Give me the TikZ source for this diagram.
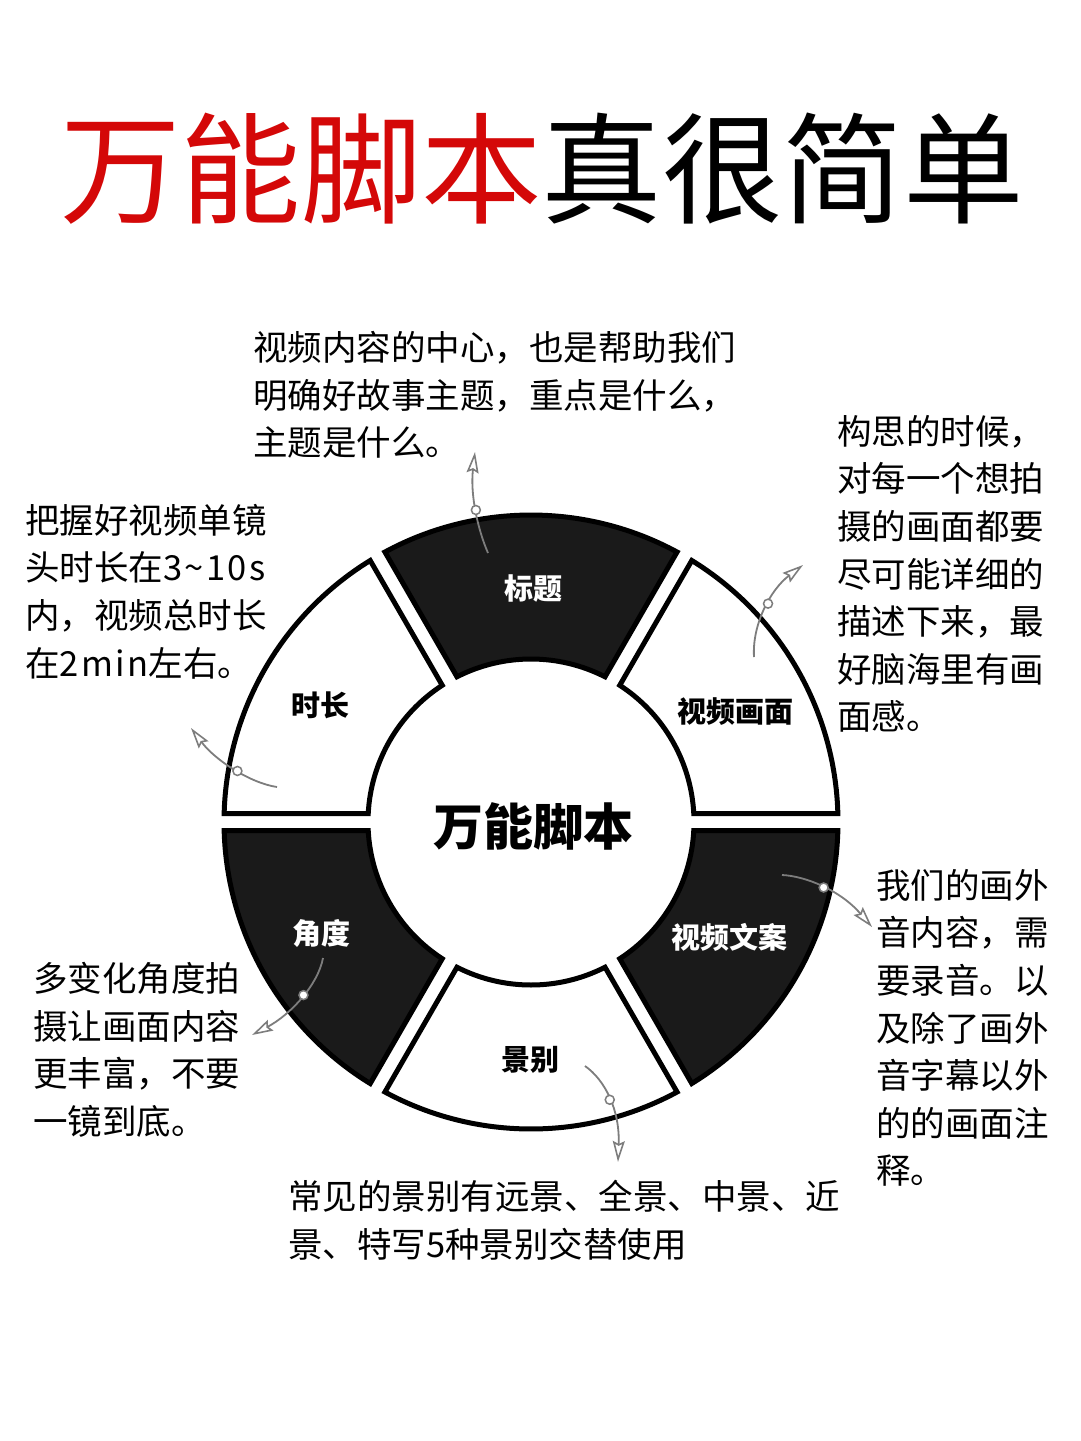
\documentclass[tikz,border=0pt]{standalone}
\usepackage{fontspec}
\newfontfamily\cjk{Noto Sans CJK SC}
\usetikzlibrary{arrows.meta}
\definecolor{titlered}{RGB}{212,8,8}
\definecolor{segblack}{RGB}{26,26,26}
\definecolor{arrowgray}{RGB}{125,125,125}
\newcommand\widelat[1]{{\addfontfeature{LetterSpace=7}#1}}
\tikzset{
  darkseg/.style={draw=black, fill=segblack, line width=5pt, line join=miter},
  lightseg/.style={draw=black, fill=white, line width=5pt, line join=miter},
  seglabel/.style={font=\cjk\bfseries\fontsize{29}{32}\selectfont, inner sep=0pt},
  desc/.style={anchor=north west, inner sep=0pt, align=left, font=\cjk\fontsize{34.5}{47.6}\selectfont},
  pointer/.style={draw=arrowgray, line width=1.8pt, -{Stealth[open, length=21pt, width=12pt, inset=3pt, line width=1.6pt]}},
  ringmark/.style={circle, draw=arrowgray, fill=white, line width=1.5pt, minimum size=9pt, inner sep=0pt}
}
\begin{document}
\begin{tikzpicture}[x=1pt, y=-1pt]
\useasboundingbox[fill=white] (0,0) rectangle (1080,1441);

% Title
\node[inner sep=0pt, font=\cjk\fontsize{120.5}{125}\selectfont] (title) at (542,169)
  {\textcolor{titlered}{万能脚本}真很简单};

% Ring
\begin{scope}[shift={(531,822)}]
\foreach \a/\st in {-120/darkseg, -60/lightseg, 0/darkseg, 60/lightseg, 120/darkseg, 180/lightseg} {
  \draw[\st] ({\a+asin(8.5/307)}:307)
    arc[start angle={\a+asin(8.5/307)}, end angle={\a+60-asin(8.5/307)}, radius=307]
    -- ({\a+60-asin(8.5/163)}:163)
    arc[start angle={\a+60-asin(8.5/163)}, end angle={\a+asin(8.5/163)}, radius=163]
    -- cycle;
}
\end{scope}

% Segment labels
\node[font=\cjk\bfseries\fontsize{50}{55}\selectfont, inner sep=0pt] (center) at (533,826) {万能脚本};
\node[seglabel, text=white] (sTitle) at (533,588) {标题};
\node[seglabel, text=black] (sPic) at (735,712) {视频画面};
\node[seglabel, text=black] (sTime) at (320,705) {时长};
\node[seglabel, text=white] (sCopy) at (729,937) {视频文案};
\node[seglabel, text=black] (sShot) at (530,1060) {景别};
\node[seglabel, text=white] (sAngle) at (321,933) {角度};

% Descriptions
\node[desc] (dTitle) at (253,331) {视频内容的中心，也是帮助我们\\明确好故事主题，重点是什么，\\主题是什么。};
\node[desc] (dPic) at (837,415) {构思的时候，\\对每一个想拍\\摄的画面都要\\尽可能详细的\\描述下来，最\\好脑海里有画\\面感。};
\node[desc] (dTime) at (25,504) {把握好视频单镜\\头时长在\widelat{3\char"007E 10s}\\内，视频总时长\\在\widelat{2min}左右。};
\node[desc] (dCopy) at (876,869) {我们的画外\\音内容，需\\要录音。以\\及除了画外\\音字幕以外\\的的画面注\\释。};
\node[desc] (dAngle) at (33,962) {多变化角度拍\\摄让画面内容\\更丰富，不要\\一镜到底。};
\node[desc] (dShot) at (288,1180) {常见的景别有远景、全景、中景、近\\景、特写\widelat{5}种景别交替使用};

% Pointer arrows
\coordinate (a1s) at (488,553); \coordinate (a1e) at (475,452);
\coordinate (a2s) at (754,657); \coordinate (a2e) at (803,565);
\coordinate (a3s) at (277,787); \coordinate (a3e) at (191,728);
\coordinate (a4s) at (323,958); \coordinate (a4e) at (252,1035);
\coordinate (a5s) at (782,875); \coordinate (a5e) at (872,927);
\coordinate (a6s) at (585,1066); \coordinate (a6e) at (618,1162);

\draw[pointer] (a1s) .. controls (478,530) and (470,495) .. (a1e) node[ringmark, pos=0.5] (m1) {};
\draw[pointer] (a2s) .. controls (752,625) and (770,590) .. (a2e) node[ringmark, pos=0.55] (m2) {};
\draw[pointer] (a3s) .. controls (250,783) and (215,760) .. (a3e) node[ringmark, pos=0.45] (m3) {};
\draw[pointer] (a4s) .. controls (318,985) and (290,1015) .. (a4e) node[ringmark, pos=0.45] (m4) {};
\draw[pointer] (a5s) .. controls (805,876) and (840,890) .. (a5e) node[ringmark, pos=0.5] (m5) {};
\draw[pointer] (a6s) .. controls (605,1080) and (620,1110) .. (a6e) node[ringmark, pos=0.5] (m6) {};
\end{tikzpicture}
\end{document}
